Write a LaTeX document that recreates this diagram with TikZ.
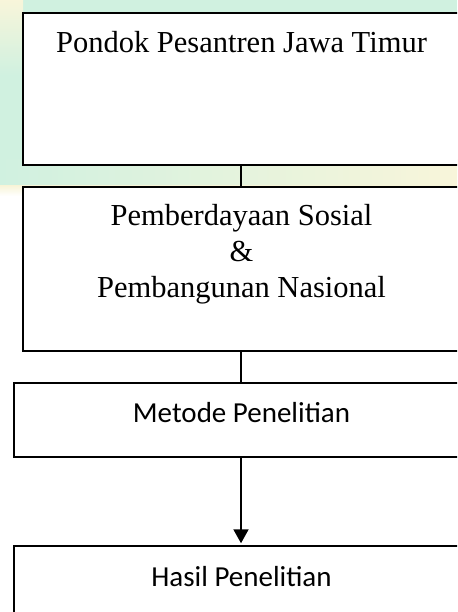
\documentclass[tikz,border=0pt]{standalone}
\usepackage{fontspec}
\setmainfont{Liberation Serif}
\newfontfamily\calibrifont{Carlito}
\usetikzlibrary{positioning,arrows.meta}
\definecolor{hazemint}{RGB}{208,241,224}
\definecolor{hazecream}{RGB}{248,245,218}

\begin{document}
\begin{tikzpicture}[x=1pt, y=-1pt, >={Triangle[length=14pt,width=15pt]},
    box/.style={draw, line width=1.5pt, fill=white, inner sep=0pt, minimum width=436pt},
    wide box/.style={box, minimum width=454pt},
    serif text/.style={font=\fontsize{30.5}{36}\selectfont, align=center, inner sep=0pt},
    sans text/.style={font=\calibrifont\fontsize{29}{35}\selectfont, inner sep=0pt},
    link/.style={line width=2pt}]
    % Page frame, the boxes run past the right edge
    \clip (0,0) rectangle (457,612);

    % Faded backdrop behind the top part
    \fill[hazemint] (0,0) rectangle (457,160);
    \fill[top color=hazecream, bottom color=hazemint] (0,0) rectangle (23,75);
    \fill[left color=hazemint, right color=hazecream] (0,160) rectangle (457,186);
    \fill[top color=hazecream, bottom color=white] (0,186) rectangle (457,196);

    % Boxes
    \node[box, minimum height=152pt] (pondok) at (241,89) {};
    \node[box, minimum height=164pt] (pemberdayaan) at (241,269) {};
    \node[wide box, minimum height=74pt] (metode) at (241,420) {};
    \node[wide box, minimum height=74pt] (hasil) at (241,583) {};

    % Texts (base of a multi-line node sits on its last line)
    \node[serif text, anchor=base] (pondoktxt) at (241.5,53) {Pondok Pesantren Jawa Timur};
    \node[serif text, anchor=base] (pemberdayaantxt) at (241.5,297)
        {Pemberdayaan Sosial\\\&\\Pembangunan Nasional};
    \node[sans text, anchor=base] (metodetxt) at (241.5,422) {Metode Penelitian};
    \node[sans text, anchor=base] (hasiltxt) at (241.5,586) {Hasil Penelitian};

    % Connectors
    \draw[link] (pondok) -- (pemberdayaan);
    \draw[link] (pemberdayaan) -- (metode);
    \draw[link, ->, shorten >=2pt] (metode) -- (hasil);
\end{tikzpicture}
\end{document}
